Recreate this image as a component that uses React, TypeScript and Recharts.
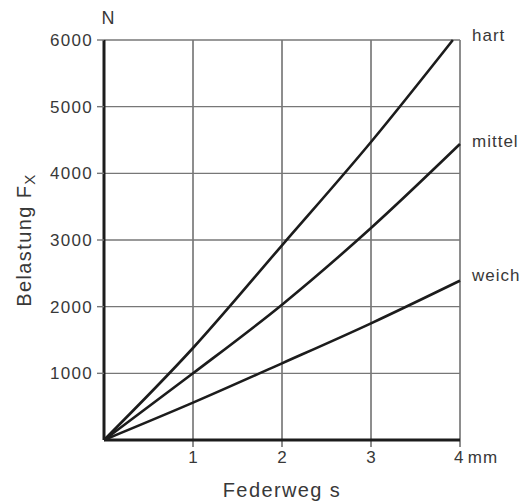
import { LineChart, Line, XAxis, YAxis, CartesianGrid, Label } from 'recharts'

// Federweg s (mm) / Belastung Fx (N) per spring type
const HART = [
  { s: 0, f: 0 },
  { s: 1, f: 1380 },
  { s: 2, f: 2920 },
  { s: 3, f: 4470 },
  { s: 3.92, f: 6000 },
]
const MITTEL = [
  { s: 0, f: 0 },
  { s: 1, f: 1000 },
  { s: 2, f: 2030 },
  { s: 3, f: 3180 },
  { s: 4, f: 4440 },
]
const WEICH = [
  { s: 0, f: 0 },
  { s: 1, f: 560 },
  { s: 2, f: 1150 },
  { s: 3, f: 1750 },
  { s: 4, f: 2390 },
]

const X_TICKS = [1, 2, 3, 4]
const Y_TICKS = [1000, 2000, 3000, 4000, 5000, 6000]

const FONT = '"Liberation Sans", Arial, sans-serif'
const TEXT = '#383838'
const INK = '#1c1c1c'

const endLabel = (name: string, last: number, dy: number) => (props: any) => {
  if (props.index !== last) return null
  return (
    <text
      x={472}
      y={props.y + dy}
      fill={TEXT}
      fontSize={17}
      fontFamily={FONT}
      letterSpacing={1}
      dominantBaseline="central"
    >
      {name}
    </text>
  )
}

const XTick = (props: any) => {
  const { x, y, payload } = props
  const v = payload.value
  if (v === 4) {
    return (
      <text x={x - 6} y={y + 14} fill={TEXT} fontSize={17} fontFamily={FONT} letterSpacing={1.2}>
        4<tspan dx={3}>mm</tspan>
      </text>
    )
  }
  return (
    <text x={x} y={y + 14} textAnchor="middle" fill={TEXT} fontSize={17} fontFamily={FONT}>
      {v}
    </text>
  )
}

export default function App() {
  return (
    <div style={{ position: 'absolute', left: 0, top: 0, background: '#fff' }}>
      <LineChart
        width={529}
        height={504}
        margin={{ top: 40, right: 69, bottom: 34, left: 44 }}
      >
        <CartesianGrid horizontal={false} stroke={INK} strokeWidth={1} />
        <CartesianGrid vertical={false} stroke="#777" strokeWidth={1.4} />
        <XAxis
          type="number"
          dataKey="s"
          domain={[0, 4]}
          ticks={X_TICKS}
          height={30}
          axisLine={{ stroke: INK, strokeWidth: 3 }}
          tickLine={{ stroke: INK, strokeWidth: 1 }}
          tickSize={7}
          tick={<XTick />}
        >
          <Label
            content={() => (
              <text
                x={282}
                y={497}
                textAnchor="middle"
                fill={TEXT}
                fontSize={20}
                fontFamily={FONT}
                letterSpacing={1.4}
              >
                Federweg s
              </text>
            )}
          />
        </XAxis>
        <YAxis
          type="number"
          domain={[0, 6000]}
          ticks={Y_TICKS}
          width={60}
          axisLine={{ stroke: INK, strokeWidth: 3 }}
          tickLine={{ stroke: '#777', strokeWidth: 1.4 }}
          tickSize={7}
          tickMargin={4}
          tick={{ fill: TEXT, fontSize: 17, fontFamily: FONT, letterSpacing: 1.3 }}
        >
          <Label
            content={() => (
              <g>
                <text
                  x={108}
                  y={18}
                  textAnchor="middle"
                  dominantBaseline="central"
                  fill={TEXT}
                  fontSize={18}
                  fontFamily={FONT}
                >
                  N
                </text>
                <text
                  transform="translate(31 240) rotate(-90)"
                  textAnchor="middle"
                  fill={TEXT}
                  fontSize={20}
                  fontFamily={FONT}
                  letterSpacing={1.4}
                >
                  Belastung F
                  <tspan fontSize={15} dy={4}>
                    X
                  </tspan>
                </text>
              </g>
            )}
          />
        </YAxis>
        <Line
          data={HART}
          dataKey="f"
          type="monotone"
          stroke={INK}
          strokeWidth={2.6}
          dot={false}
          isAnimationActive={false}
          label={endLabel('hart', HART.length - 1, -5)}
        />
        <Line
          data={MITTEL}
          dataKey="f"
          type="monotone"
          stroke={INK}
          strokeWidth={2.6}
          dot={false}
          isAnimationActive={false}
          label={endLabel('mittel', MITTEL.length - 1, -3)}
        />
        <Line
          data={WEICH}
          dataKey="f"
          type="monotone"
          stroke={INK}
          strokeWidth={2.6}
          dot={false}
          isAnimationActive={false}
          label={endLabel('weich', WEICH.length - 1, -5)}
        />
      </LineChart>
    </div>
  )
}
